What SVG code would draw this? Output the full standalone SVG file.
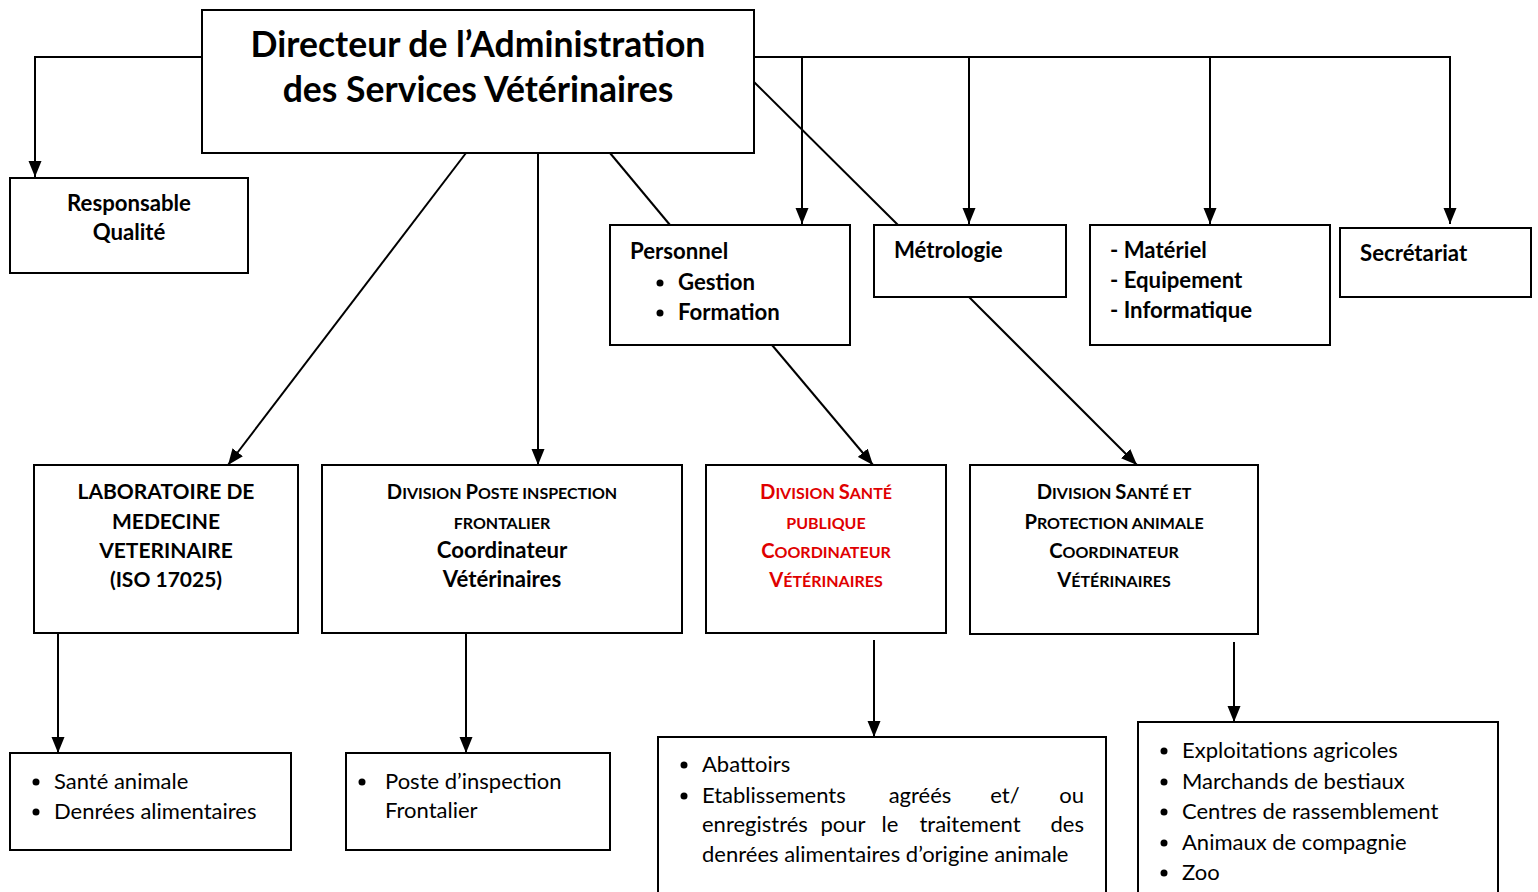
<svg xmlns="http://www.w3.org/2000/svg" width="1538" height="892" viewBox="0 0 1538 892">
<defs>
<style>
.box{fill:#fff;stroke:#000;stroke-width:2}
.ln{fill:none;stroke:#000;stroke-width:2}
text{font-family:Lato,"Open Sans","Liberation Sans",sans-serif;fill:#000}
.b{font-weight:bold}
.t{font-size:35.5px;font-weight:bold}
.n{font-size:22.2px;font-weight:bold}
.lab{font-size:21px}
.r{font-size:22px}
.sc{font-weight:bold;font-size:16px}
.big{font-size:20.2px}
.red{fill:#e00000}
.m{text-anchor:middle}
</style>
<marker id="ah" markerUnits="userSpaceOnUse" markerWidth="16" markerHeight="14" viewBox="0 0 16 14" refX="16" refY="7" orient="auto">
<path d="M0,0.5 L16,7 L0,13.5 Z" fill="#000"/>
</marker>
</defs>
<rect width="1538" height="892" fill="#fff"/>

<g id="connectors">
<path class="ln" d="M202,57 H35 V177" marker-end="url(#ah)"/>
<path class="ln" d="M754,57 H1450 V224" marker-end="url(#ah)"/>
<path class="ln" d="M802,57 V224" marker-end="url(#ah)"/>
<path class="ln" d="M969,57 V224" marker-end="url(#ah)"/>
<path class="ln" d="M1210,57 V224" marker-end="url(#ah)"/>
<path class="ln" d="M754,82 L898,225"/>
<path class="ln" d="M610,153 L670,225"/>
<path class="ln" d="M466,153 L228,465" marker-end="url(#ah)"/>
<path class="ln" d="M538,153 V465" marker-end="url(#ah)"/>
<path class="ln" d="M772,345 L873,465" marker-end="url(#ah)"/>
<path class="ln" d="M969,297 L1137,465" marker-end="url(#ah)"/>
<path class="ln" d="M58,633 V753" marker-end="url(#ah)"/>
<path class="ln" d="M466,633 V753" marker-end="url(#ah)"/>
<path class="ln" d="M874,640 V737" marker-end="url(#ah)"/>
<path class="ln" d="M1234,642 V722" marker-end="url(#ah)"/>
</g>

<g id="directeur">
<rect class="box" x="202" y="10" width="552" height="143"/>
<text class="t m" x="478" y="57">Directeur de l’Administration</text>
<text class="t m" x="478" y="102">des Services Vétérinaires</text>
</g>

<g id="responsable">
<rect class="box" x="10" y="178" width="238" height="95"/>
<text class="n m" x="129" y="211">Responsable</text>
<text class="n m" x="129" y="240">Qualité</text>
</g>

<g id="personnel">
<rect class="box" x="610" y="225" width="240" height="120"/>
<text class="n" x="630" y="259">Personnel</text>
<circle cx="660" cy="283" r="3.5"/>
<text class="n" x="678" y="290">Gestion</text>
<circle cx="660" cy="313" r="3.5"/>
<text class="n" x="678" y="320">Formation</text>
</g>

<g id="metrologie">
<rect class="box" x="874" y="225" width="192" height="72"/>
<text class="n" x="894" y="258">Métrologie</text>
</g>

<g id="materiel">
<rect class="box" x="1090" y="225" width="240" height="120"/>
<text class="n" x="1110" y="258">- Matériel</text>
<text class="n" x="1110" y="288">- Equipement</text>
<text class="n" x="1110" y="318">- Informatique</text>
</g>

<g id="secretariat">
<rect class="box" x="1340" y="228" width="191" height="69"/>
<text class="n" x="1360" y="261">Secrétariat</text>
</g>

<g id="laboratoire">
<rect class="box" x="34" y="465" width="264" height="168"/>
<text class="n lab m" x="166" y="499">LABORATOIRE DE</text>
<text class="n lab m" x="166" y="529">MEDECINE</text>
<text class="n lab m" x="166" y="558">VETERINAIRE</text>
<text class="n lab m" x="166" y="587">(ISO 17025)</text>
</g>

<g id="division-poste">
<rect class="box" x="322" y="465" width="360" height="168"/>
<text class="sc m" x="502" y="499"><tspan class="big">D</tspan>IVISION <tspan class="big">P</tspan>OSTE INSPECTION</text>
<text class="sc m" x="502" y="529">FRONTALIER</text>
<text class="n m" x="502" y="558">Coordinateur</text>
<text class="n m" x="502" y="587">Vétérinaires</text>
</g>

<g id="division-sante-publique">
<rect class="box" x="706" y="465" width="240" height="168"/>
<text class="sc red m" x="826" y="499"><tspan class="big">D</tspan>IVISION <tspan class="big">S</tspan>ANTÉ</text>
<text class="sc red m" x="826" y="529">PUBLIQUE</text>
<text class="sc red m" x="826" y="558"><tspan class="big">C</tspan>OORDINATEUR</text>
<text class="sc red m" x="826" y="587"><tspan class="big">V</tspan>ÉTÉRINAIRES</text>
</g>

<g id="division-sante-protection">
<rect class="box" x="970" y="465" width="288" height="169"/>
<text class="sc m" x="1114" y="499"><tspan class="big">D</tspan>IVISION <tspan class="big">S</tspan>ANTÉ ET</text>
<text class="sc m" x="1114" y="529"><tspan class="big">P</tspan>ROTECTION ANIMALE</text>
<text class="sc m" x="1114" y="558"><tspan class="big">C</tspan>OORDINATEUR</text>
<text class="sc m" x="1114" y="587"><tspan class="big">V</tspan>ÉTÉRINAIRES</text>
</g>

<g id="labo-items">
<rect class="box" x="10" y="753" width="281" height="97"/>
<circle cx="36" cy="782" r="3.5"/>
<text class="r" x="54" y="789">Santé animale</text>
<circle cx="36" cy="812" r="3.5"/>
<text class="r" x="54" y="819">Denrées alimentaires</text>
</g>

<g id="poste-items">
<rect class="box" x="346" y="753" width="264" height="97"/>
<circle cx="362" cy="782" r="3.5"/>
<text class="r" x="385" y="789">Poste d’inspection</text>
<text class="r" x="385" y="818">Frontalier</text>
</g>

<g id="sante-publique-items">
<rect class="box" x="658" y="737" width="448" height="170"/>
<circle cx="684" cy="765" r="3.5"/>
<text class="r" x="702" y="772">Abattoirs</text>
<circle cx="684" cy="796" r="3.5"/>
<text class="r" x="702" y="803">Etablissements</text>
<text class="r m" x="920" y="803">agréés</text>
<text class="r m" x="1005" y="803">et/</text>
<text class="r" x="1084" y="803" text-anchor="end">ou</text>
<text class="r" x="702" y="832">enregistrés</text>
<text class="r m" x="843" y="832">pour</text>
<text class="r m" x="890" y="832">le</text>
<text class="r m" x="970" y="832">traitement</text>
<text class="r" x="1084" y="832" text-anchor="end">des</text>
<text class="r" x="702" y="862">denrées alimentaires d’origine animale</text>
</g>

<g id="sante-animale-items">
<rect class="box" x="1138" y="722" width="360" height="185"/>
<circle cx="1164" cy="751" r="3.5"/>
<text class="r" x="1182" y="758">Exploitations agricoles</text>
<circle cx="1164" cy="782" r="3.5"/>
<text class="r" x="1182" y="789">Marchands de bestiaux</text>
<circle cx="1164" cy="812" r="3.5"/>
<text class="r" x="1182" y="819">Centres de rassemblement</text>
<circle cx="1164" cy="843" r="3.5"/>
<text class="r" x="1182" y="850">Animaux de compagnie</text>
<circle cx="1164" cy="873" r="3.5"/>
<text class="r" x="1182" y="880">Zoo</text>
</g>
</svg>
